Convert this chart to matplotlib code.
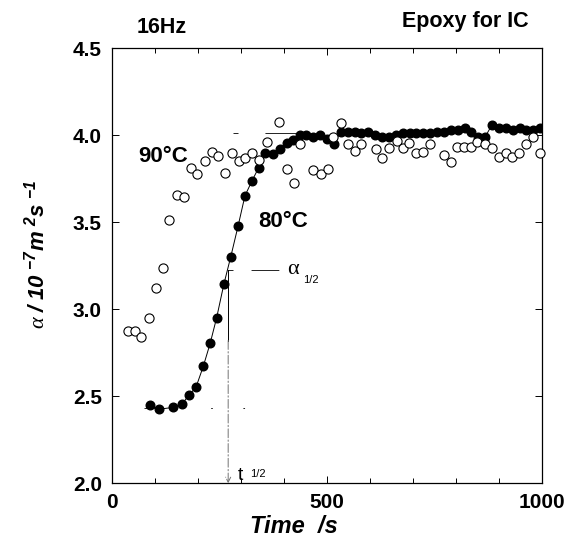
import matplotlib
matplotlib.use("Agg")
import matplotlib.pyplot as plt

# 80 C run (filled circles)
time_80 = [89, 109, 143, 164, 180, 196, 213, 229, 244, 261, 277, 294, 310, 326, 342,
           357, 375, 392, 407, 422, 438, 453, 469, 485, 501, 517, 533, 549, 565, 581,
           597, 613, 629, 645, 661, 677, 693, 709, 725, 741, 757, 773, 789, 805, 821,
           837, 853, 869, 885, 901, 917, 933, 949, 965, 981, 997]
alpha_80 = [2.45, 2.425, 2.436, 2.456, 2.507, 2.551, 2.671, 2.803, 2.949, 3.144, 3.301,
            3.477, 3.651, 3.735, 3.813, 3.896, 3.890, 3.919, 3.956, 3.970, 4.00, 4.00,
            3.99, 4.00, 3.98, 3.95, 4.02, 4.02, 4.02, 4.01, 4.02, 4.00, 3.99, 3.99, 4.00,
            4.01, 4.01, 4.01, 4.01, 4.01, 4.02, 4.02, 4.03, 4.03, 4.04, 4.02, 3.99, 3.99,
            4.06, 4.04, 4.04, 4.03, 4.04, 4.03, 4.03, 4.04]

# 90 C run (open circles)
time_90 = [37, 54, 69, 87, 103, 119, 134, 151, 168, 184, 199, 216, 233, 247, 264, 279,
           296, 311, 327, 343, 361, 390, 407, 424, 439, 469, 487, 504, 516, 534, 549,
           566, 581, 615, 629, 646, 663, 677, 692, 708, 725, 740, 772, 789, 803, 820,
           835, 849, 868, 885, 901, 918, 932, 948, 965, 981, 997]
alpha_90 = [2.876, 2.876, 2.842, 2.947, 3.119, 3.236, 3.511, 3.656, 3.645, 3.813, 3.775,
            3.851, 3.905, 3.880, 3.784, 3.896, 3.851, 3.867, 3.896, 3.857, 3.962, 4.075,
            3.804, 3.727, 3.947, 3.798, 3.779, 3.804, 3.99, 4.068, 3.951, 3.909, 3.951,
            3.919, 3.870, 3.928, 3.966, 3.924, 3.953, 3.899, 3.905, 3.951, 3.884, 3.847,
            3.932, 3.932, 3.932, 3.962, 3.951, 3.928, 3.876, 3.896, 3.876, 3.899, 3.951,
            3.989, 3.899]

# half-value construction for the 80 C curve
t_half = 271
alpha_half = 3.225
alpha_low = 2.435
alpha_high = 4.01

x_ticks = [0, 500, 1000]
y_ticks = [2.0, 2.5, 3.0, 3.5, 4.0, 4.5]

plt.rcParams['font.family'] = ['Liberation Sans', 'DejaVu Sans']
plt.rcParams['mathtext.fontset'] = 'custom'
plt.rcParams['mathtext.rm'] = 'Liberation Sans:bold:italic'
plt.rcParams['mathtext.it'] = 'Liberation Serif:italic'
plt.rcParams['lines.scale_dashes'] = False

fig = plt.figure(figsize=(5.69, 5.55), dpi=100)
ax = fig.add_axes([0.1963, 0.1292, 0.7554, 0.7843])

# guide lines
ax.plot([74, t_half + 45], [alpha_low, alpha_low], color='black', lw=0.6,
        dashes=(11, 37, 1.2, 22, 1.2, 10))
ax.plot([283, 431], [alpha_high, alpha_high], color='black', lw=0.6,
        dashes=(3.6, 19.4, 23, 5))
ax.plot([t_half, 390], [alpha_half, alpha_half], color='black', lw=0.6,
        dashes=(3.6, 13, 20, 5))
ax.plot([t_half, t_half], [alpha_half, 2.82], color='black', lw=0.7)
ax.annotate('', xy=(t_half, 2.0), xytext=(t_half, 2.82),
            arrowprops=dict(arrowstyle='->', color='0.45', lw=0.7, linestyle='-.',
                            shrinkA=0, shrinkB=0, mutation_scale=9))

ax.plot(time_80, alpha_80, color='black', lw=0.7, marker='o', markersize=6.2,
        markerfacecolor='black', markeredgecolor='black', zorder=3)
ax.plot(time_90, alpha_90, linestyle='none', marker='o', markersize=6.6,
        markerfacecolor='white', markeredgecolor='black', markeredgewidth=0.8,
        zorder=4, clip_on=False)

ax.set_xlim(0, 1000)
ax.set_ylim(2.0, 4.5)
ax.set_xticks(x_ticks)
ax.set_xticks(range(100, 1000, 100), minor=True)
ax.set_yticks(y_ticks)
ax.set_xticklabels([str(v) for v in x_ticks])
ax.set_yticklabels([f'{v:.1f}' for v in y_ticks])
ax.tick_params(which='both', direction='in', top=True, right=True, width=0.7)
ax.tick_params(which='major', length=5)
ax.tick_params(which='minor', length=3.5)
ax.tick_params(axis='x', pad=7)
ax.tick_params(axis='y', pad=7)
for lab in ax.get_xticklabels() + ax.get_yticklabels():
    lab.set_fontsize(15)
    lab.set_fontweight('bold')
for s in ax.spines.values():
    s.set_linewidth(0.9)

# curve labels
ax.text(61, 3.845, '90°C', fontsize=16, fontweight='bold', va='baseline')
ax.text(340, 3.472, '80°C', fontsize=16, fontweight='bold', va='baseline')
ax.text(408, 3.23, 'α', fontsize=16, family='Liberation Serif', va='center')
ax.text(445, 3.151, '1/2', fontsize=8, va='baseline')
ax.text(294, 2.019, 't', fontsize=14, va='baseline')
ax.text(322, 2.036, '1/2', fontsize=8, va='baseline')

fig.text(0.2408, 0.9405, '16Hz', fontsize=15.5, fontweight='bold', va='baseline')
fig.text(0.9297, 0.952, 'Epoxy for IC', fontsize=15.5, fontweight='bold',
         ha='right', va='baseline')
fig.text(0.4394, 0.0396, 'Time  /s', fontsize=17, fontweight='bold', style='italic',
         va='baseline')
fig.text(0.064, 0.5423, r'$\alpha$ $\mathrm{/\ 10\ ^{-7}m\ ^{2}s\ ^{-1}}$',
         fontsize=16, rotation=90, ha='center', va='center')

fig.savefig('out.png', dpi=100)
